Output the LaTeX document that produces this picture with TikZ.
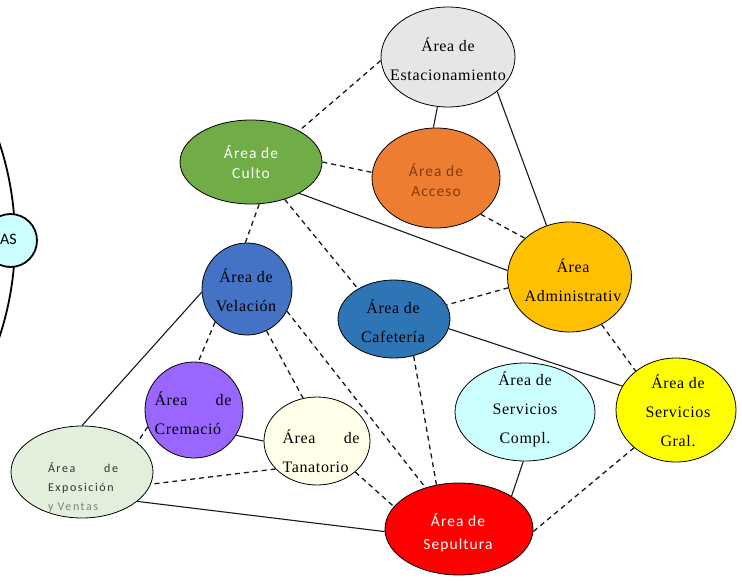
\documentclass[tikz,border=0pt]{standalone}
\usepackage{fontspec}
\usetikzlibrary{shapes.geometric}
\newfontfamily\serifA{Liberation Serif}[LetterSpace=4]
\newfontfamily\sansA{Carlito}[LetterSpace=7]
\newfontfamily\sansB{Carlito}[LetterSpace=13]
\newfontfamily\sansC{Carlito}
\definecolor{cEst}{HTML}{E7E6E6}
\definecolor{cCul}{HTML}{70AD47}
\definecolor{cAcc}{HTML}{ED7D31}
\definecolor{cAccT}{HTML}{843C0C}
\definecolor{cAdm}{HTML}{FFC000}
\definecolor{cVel}{HTML}{4472C4}
\definecolor{cCaf}{HTML}{2E75B6}
\definecolor{cCre}{HTML}{9966FF}
\definecolor{cTan}{HTML}{FFFFEA}
\definecolor{cExp}{HTML}{E2EFDA}
\definecolor{cSco}{HTML}{CCFFFF}
\definecolor{cSgr}{HTML}{FFFF00}
\definecolor{cSep}{HTML}{FF0000}
\tikzset{
  area/.style={ellipse, draw=black, line width=0.8pt, inner sep=0pt},
  solidlink/.style={draw=black!90, line width=1.1pt},
  dashlink/.style={draw=black!90, line width=1.3pt, dash pattern=on 5pt off 4pt},
  serift/.style={font={\serifA\fontsize{16}{29}\selectfont}, align=center, text=black, inner sep=0pt},
  serifl/.style={font={\serifA\fontsize{16}{29}\selectfont}, align=left, text=black, inner sep=0pt},
  sanst/.style={font={\sansA\fontsize{15.5}{21}\selectfont}, align=center, inner sep=0pt},
}
\begin{document}
\begin{tikzpicture}[x=1pt,y=-1pt]
\useasboundingbox (0,0) rectangle (742,582);
\clip (0,0) rectangle (742,582);
\fill[white] (0,0) rectangle (742,582);
% big arc and left node
\draw[line width=1.8pt] (-293,240) circle (308);
\node[circle, draw=black, line width=1.8pt, fill=cSco, minimum size=53pt, inner sep=0pt] (as) at (10.5,240.5) {};
\node[font={\sansC\fontsize{16}{18}\selectfont}, anchor=base east, inner sep=0pt] (ast) at (17,244) {AS};
% areas
\node[area, fill=cEst, minimum width=134pt, minimum height=100pt] (est) at (448,57) {};
\node[area, fill=cCul, minimum width=142pt, minimum height=84pt] (cul) at (251,162) {};
\node[area, fill=cAcc, minimum width=128pt, minimum height=100pt] (acc) at (436,178) {};
\node[area, fill=cAdm, minimum width=124pt, minimum height=110pt] (adm) at (569.5,277) {};
\node[area, fill=cVel, minimum width=90pt, minimum height=92pt] (vel) at (247,289) {};
\node[area, fill=cCaf, minimum width=112pt, minimum height=78pt] (caf) at (394,319) {};
\node[area, fill=cCre, minimum width=98pt, minimum height=96pt] (cre) at (194,410) {};
\node[area, fill=cTan, minimum width=106pt, minimum height=88pt] (tan) at (317,441) {};
\node[area, fill=cExp, minimum width=142pt, minimum height=92pt] (exp) at (82,472) {};
\node[area, fill=cSco, minimum width=140pt, minimum height=98pt] (sco) at (525,412) {};
\node[area, fill=cSgr, minimum width=120pt, minimum height=104pt] (sgr) at (676,410) {};
\node[area, fill=cSep, minimum width=148pt, minimum height=92pt] (sep) at (459,529) {};
% texts
\node[serift] (estt) at (448,59) {Área de\\Estacionamiento};
\node[sanst, text=white, font={\sansA\fontsize{15.5}{20}\selectfont}] (cult) at (251,162) {Área de\\Culto};
\node[sanst, text=cAccT, font={\sansA\fontsize{15.5}{20}\selectfont}] (acct) at (436,180) {Área de\\Acceso};
\node[serift] (admt) at (573,280) {Área\\Administrativ};
\node[serift] (velt) at (246,290) {Área de\\Velación};
\node[serift] (caft) at (393,321) {Área de\\Cafetería};
\node[serifl] (cret) at (193,413) {\makebox[77pt][s]{Área de}\\Cremació};
\node[serifl] (tant) at (321,451) {\makebox[77pt][s]{Área de}\\Tanatorio};
\node[serift] (scot) at (525,409) {Área de\\Servicios\\Compl.};
\node[serift] (sgrt) at (678,411) {Área de\\Servicios\\Gral.};
\node[sanst, text=white, font={\sansA\fontsize{15.5}{23}\selectfont}] (sept) at (458,533) {Área de\\Sepultura};
\node[align=left, inner sep=0pt, font={\sansB\fontsize{12}{19}\selectfont}, text=black!80] (expt) at (83,487) {\makebox[70pt][s]{Área de}\\Exposición\\\textcolor{black!50}{y Ventas}};
% connectors
\draw[solidlink] (est.-102) -- (acc.93);
\draw[solidlink] (est.-35) -- (adm.114);
\draw[dashlink] (est.183) -- (cul.33);
\draw[dashlink] (cul.0) -- (acc.175);
\draw[dashlink] (acc.-39) -- (adm.139);
\draw[solidlink] (cul.-33) -- (adm.174);
\draw[dashlink] (cul.-79) -- (vel.92);
\draw[dashlink] (cul.-48) -- (caf.140);
\draw[dashlink] (adm.190) -- (caf.15);
\draw[solidlink] (caf.-10) -- (sgr.156);
\draw[dashlink] (adm.-56) -- (sgr.136);
\draw[solidlink] (vel.184) -- (exp.90);
\draw[solidlink] (cre.-31) -- (tan.180);
\draw[solidlink] (exp.-28) -- (sep.182);
\draw[solidlink] (sco.-92) -- (sep.32);
\draw[dashlink] (vel.-134) -- (cre.85);
\draw[dashlink] (vel.-65) -- (tan.108);
\draw[dashlink] (vel.-29) -- (sep.129);
\draw[dashlink] (caf.-62) -- (sep.117);
\draw[dashlink] (tan.-39) -- (sep.161);
\draw[dashlink] (cre.-160) -- (exp.28);
\draw[dashlink] (tan.-146) -- (exp.-10);
\draw[dashlink] (sgr.-138) -- (sep.-2);
\end{tikzpicture}
\end{document}
